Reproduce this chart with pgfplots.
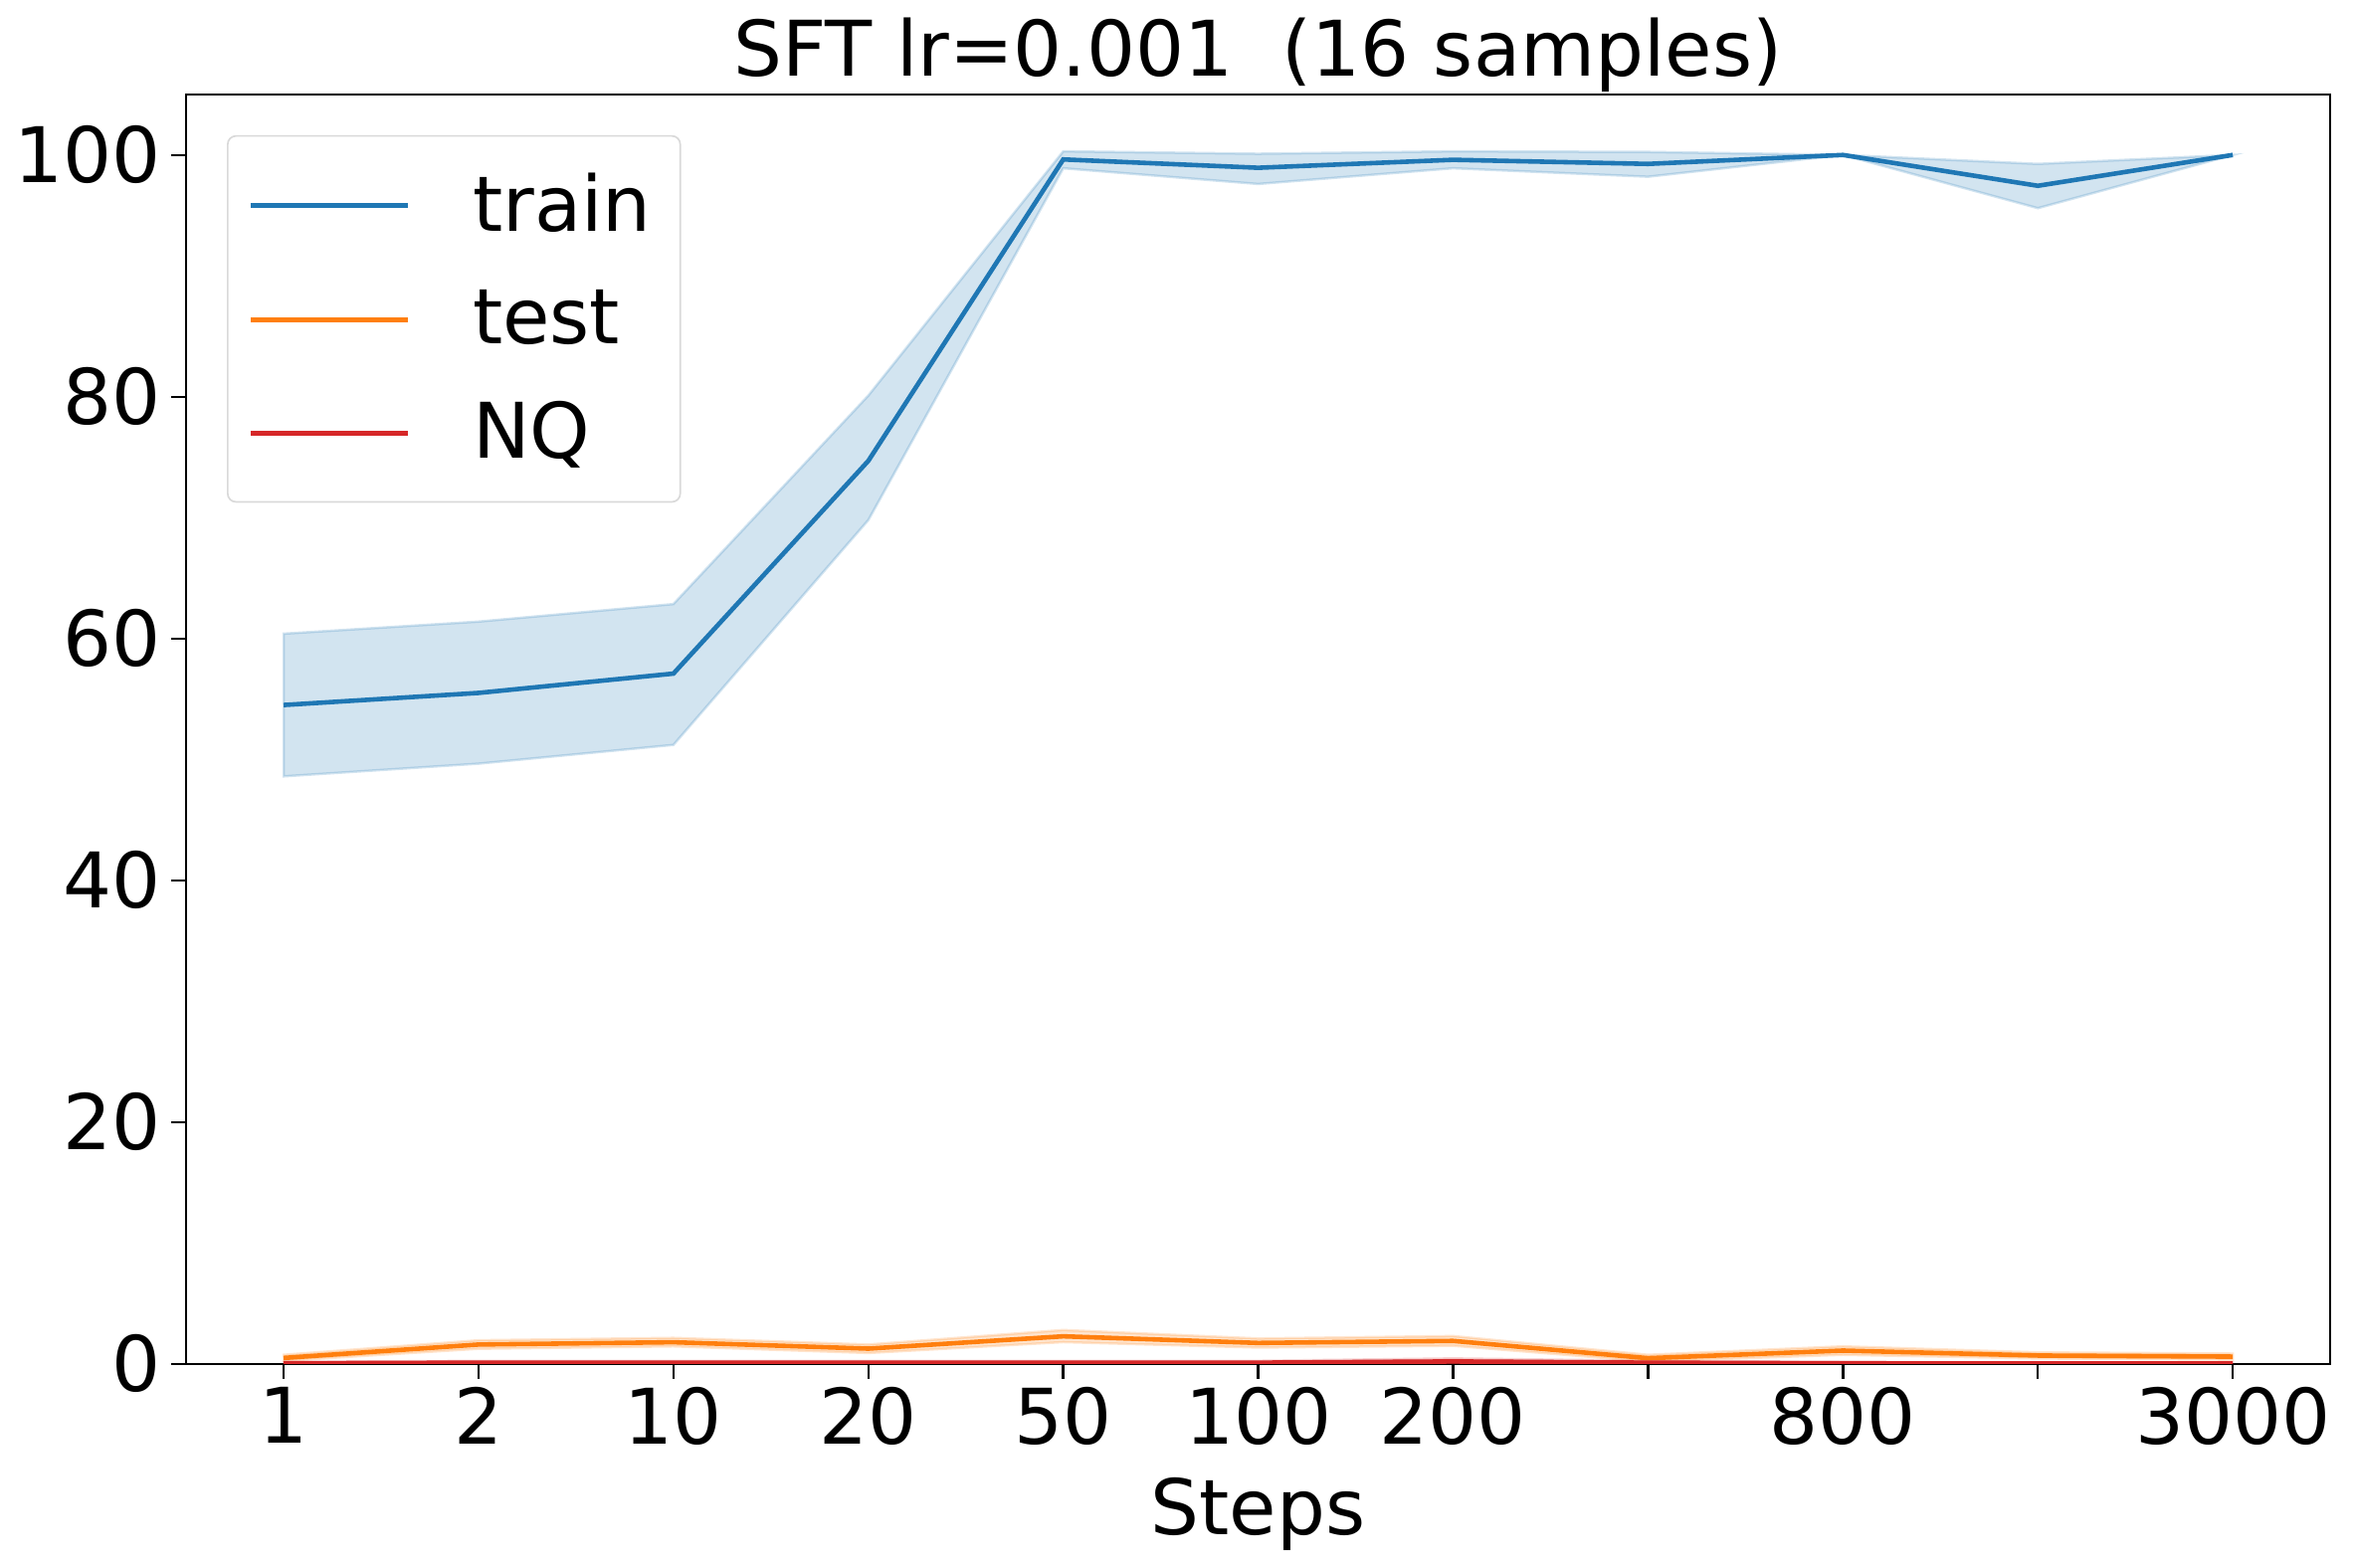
\documentclass[border=0pt]{standalone}
\usepackage{pgfplots}
\pgfplotsset{compat=1.18}
\usepackage{fontspec}
\setmainfont{DejaVu Sans}
\definecolor{tblue}{HTML}{1F77B4}
\definecolor{torange}{HTML}{FF7F0E}
\definecolor{tred}{HTML}{D62728}
\begin{document}
\begin{tikzpicture}
\begin{axis}[
  scale only axis,
  width=517.2pt, height=306.2pt,
  xmin=-0.5, xmax=10.5, ymin=0, ymax=105,
  xtick={0,1,2,3,4,5,6,7,8,9,10},
  xticklabels={1,2,10,20,50,100,200,,800,,3000},
  ytick={0,20,40,60,80,100},
  tick align=outside, xtick pos=bottom, ytick pos=left,
  major tick length=3.6pt,
  tick style={black, line width=0.6pt},
  axis line style={line width=0.6pt},
  /pgf/number format/assume math mode=true,
  ticklabel style={font=\fontsize{18.5}{22}\selectfont},
  xticklabel style={yshift=1.5pt},
  yticklabel style={xshift=1pt},
  label style={font=\fontsize{18.5}{22}\selectfont},
  xlabel={Steps},
  xlabel style={yshift=-1pt},
  title={SFT lr=0.001\ \ (16 samples)},
  title style={font=\fontsize{18.5}{22}\selectfont, yshift=-9pt},
  legend style={at={(0.019,0.968)}, anchor=north west, draw=black!15, rounded corners=2pt,
    fill=white, fill opacity=0.8, text opacity=1,
    font=\fontsize{18.5}{22}\selectfont, row sep=8.5pt, inner xsep=5pt, inner ysep=7pt},
  legend cell align=left,
  legend image code/.code={\draw[#1] (0pt,0pt) -- (38pt,0pt); \path (51pt,0pt);},
]
% train band
\addplot[fill=tblue, fill opacity=0.2, draw=tblue, draw opacity=0.2, line width=0.6pt, forget plot] coordinates {
 (0,60.4) (1,61.4) (2,62.85) (3,80.1) (4,100.3) (5,100.1) (6,100.3) (7,100.25) (8,100) (9,99.26) (10,100)
 (10,100) (9,95.6) (8,100) (7,98.2) (6,98.9) (5,97.6) (4,98.9) (3,69.8) (2,51.2) (1,49.65) (0,48.6)} -- cycle;
% test band
\addplot[fill=torange, fill opacity=0.2, draw=torange, draw opacity=0.2, line width=0.6pt, forget plot] coordinates {
 (0,0.75) (1,1.95) (2,2.15) (3,1.6) (4,2.8) (5,2.1) (6,2.3) (7,0.75) (8,1.45) (9,0.95) (10,0.85)
 (10,0.35) (9,0.45) (8,0.75) (7,0.2) (6,1.5) (5,1.35) (4,1.8) (3,0.9) (2,1.45) (1,1.25) (0,0.25)} -- cycle;
% NQ band
\addplot[fill=tred, fill opacity=0.2, draw=tred, draw opacity=0.2, line width=0.6pt, forget plot] coordinates {
 (0,0.15) (1,0.25) (2,0.25) (3,0.25) (4,0.25) (5,0.25) (6,0.45) (7,0.25) (8,0.15) (9,0.1) (10,0.1)
 (10,0) (9,0) (8,0) (7,0) (6,0) (5,0) (4,0) (3,0) (2,0) (1,0) (0,0)} -- cycle;
\addplot[tblue, line width=1.1pt] coordinates {
 (0,54.5) (1,55.5) (2,57.1) (3,74.7) (4,99.63) (5,98.94) (6,99.6) (7,99.26) (8,100) (9,97.45) (10,100)};
\addlegendentry{train}
\addplot[torange, line width=1.1pt] coordinates {
 (0,0.49) (1,1.6) (2,1.79) (3,1.26) (4,2.28) (5,1.73) (6,1.9) (7,0.47) (8,1.1) (9,0.69) (10,0.6)};
\addlegendentry{test}
\addplot[tred, line width=1.1pt] coordinates {
 (0,0.05) (1,0.1) (2,0.1) (3,0.1) (4,0.1) (5,0.1) (6,0.2) (7,0.1) (8,0.05) (9,0.03) (10,0.03)};
\addlegendentry{NQ}
\end{axis}
\path (current axis.south west) ++(-44.9pt,-49pt) coordinate (bbA);
\path (current axis.north east) ++(5.5pt,22.8pt) coordinate (bbB);
\useasboundingbox (bbA) rectangle (bbB);
\end{tikzpicture}
\end{document}
